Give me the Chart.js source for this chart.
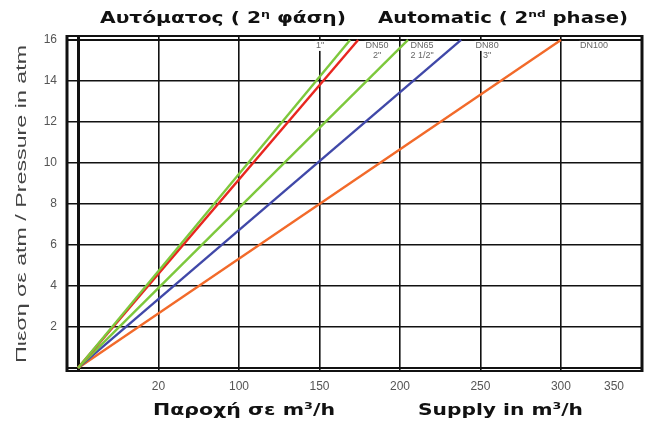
<!DOCTYPE html>
<html>
<head>
<meta charset="utf-8">
<script src="https://cdn.jsdelivr.net/npm/chart.js@4.4.1/dist/chart.umd.min.js"></script>
<style>
  html, body { margin: 0; padding: 0; background: #fff; }
  #wrap { width: 649px; height: 421px; }
</style>
</head>
<body>
<div id="wrap"><canvas id="c"></canvas></div>
<script>
// pipe sizes, pressure range and the flow reached at 16 atm
const seriesNames = ['1"', 'DN50 2"', 'DN65 2 1/2"', 'DN80 3"', 'DN100'];
const seriesLabelLines = [['1"'], ['DN50', '2"'], ['DN65', '2 1/2"'], ['DN80', '3"'], ['DN100']];
const seriesColors = ['#7dc83c', '#e8261f', '#7dc83c', '#4048a8', '#f26a2a'];
const pressureRange = [0, 16];
const flowAtMax = [169, 174, 205, 238, 300];

const xTickValues = [0, 50, 100, 150, 200, 250, 300, 333, 350];
const xTickLabels = ['', '20', '100', '150', '200', '250', '300', '350', ''];
const yTickValues = [0, 2, 4, 6, 8, 10, 12, 14, 16];

const titleTopGr = [['Αυτόματος ( 2'], ['η', 1], [' φάση)']];
const titleTopEn = [['Automatic ( 2'], ['nd', 1], [' phase)']];
const titleXGr = [['Παροχή σε m'], ['3', 1], ['/h']];
const titleXEn = [['Supply in m'], ['3', 1], ['/h']];
const titleY = 'Πιεση σε atm / Pressure in atm';

const FONT = '"Liberation Sans", Arial, sans-serif';
const BOLD = '"DejaVu Sans", "Liberation Sans", sans-serif';

function drawRich(ctx, segs, x, y, size, width)
{
    const font = s => 'bold ' + s + 'px ' + BOLD;
    let total = 0;
    segs.forEach(s => {
        ctx.font = font(s[1] ? size * 0.62 : size);
        total += ctx.measureText(s[0]).width;
    });
    ctx.save();
    ctx.translate(x, y);
    ctx.scale(width / total, 1);
    ctx.fillStyle = '#111';
    ctx.textBaseline = 'alphabetic';
    ctx.textAlign = 'left';
    let cx = 0;
    segs.forEach(s => {
        ctx.font = font(s[1] ? size * 0.62 : size);
        ctx.fillText(s[0], cx, s[1] ? -size * 0.42 : 0);
        cx += ctx.measureText(s[0]).width;
    });
    ctx.restore();
}

const decor = {
    id: 'decor',
    afterDatasetsDraw(chart)
    {
        const ctx = chart.ctx;
        const xs = chart.scales.x, ys = chart.scales.y;
        const a = chart.chartArea;

        // pipe size labels next to the line ends
        const dx = [-30, 19, 14, 26, 33];
        ctx.save();
        ctx.font = '9px ' + FONT;
        ctx.textAlign = 'center';
        ctx.textBaseline = 'middle';
        seriesLabelLines.forEach((lines, i) => {
            const px = xs.getPixelForValue(flowAtMax[i]) + dx[i];
            const py = ys.getPixelForValue(pressureRange[1]) + 6;
            lines.forEach((t, j) => {
                const w = ctx.measureText(t).width;
                ctx.fillStyle = '#fff';
                ctx.fillRect(px - w / 2 - 1, py + j * 10 - 5, w + 2, 10);
                ctx.fillStyle = '#666';
                ctx.fillText(t, px, py + j * 10);
            });
        });
        ctx.restore();

        // double frame
        ctx.save();
        ctx.strokeStyle = '#111';
        ctx.lineWidth = 3;
        ctx.beginPath();
        ctx.moveTo(a.left + 1, a.top); ctx.lineTo(a.left + 1, a.bottom);
        ctx.moveTo(a.right - 1, a.top); ctx.lineTo(a.right - 1, a.bottom);
        ctx.stroke();
        ctx.lineWidth = 2.2;
        ctx.beginPath();
        ctx.moveTo(a.left, a.top + 1); ctx.lineTo(a.right, a.top + 1);
        ctx.moveTo(a.left, a.bottom - 1); ctx.lineTo(a.right, a.bottom - 1);
        ctx.stroke();
        ctx.restore();

        // titles
        drawRich(ctx, titleTopGr, 100, 23, 15, 246);
        drawRich(ctx, titleTopEn, 378, 23, 15, 250);
        drawRich(ctx, titleXGr, 153, 415, 15, 182);
        drawRich(ctx, titleXEn, 418, 415, 15, 165);

        ctx.save();
        ctx.translate(22, 204);
        ctx.rotate(-Math.PI / 2);
        ctx.font = '15px ' + FONT;
        const w = ctx.measureText(titleY).width;
        ctx.scale(318 / w, 1);
        ctx.fillStyle = '#444';
        ctx.textAlign = 'center';
        ctx.textBaseline = 'middle';
        ctx.fillText(titleY, 0, 0);
        ctx.restore();
    }
};

new Chart(document.getElementById('c'), {
    type: 'line',
    data: {
        datasets: seriesNames.map((name, i) => ({
            label: name,
            data: [
                { x: 0, y: pressureRange[0] },
                { x: flowAtMax[i], y: pressureRange[1] }
            ],
            borderColor: seriesColors[i],
            backgroundColor: seriesColors[i],
            borderWidth: 2.4,
            pointRadius: 0,
            tension: 0
        }))
    },
    options: {
        responsive: true,
        maintainAspectRatio: false,
        animation: false,
        layout: { padding: { left: 0, top: 35, right: 6, bottom: 0 } },
        plugins: {
            legend: { display: false },
            tooltip: { enabled: false }
        },
        scales: {
            x: {
                type: 'linear',
                min: -7.5,
                max: 351,
                afterBuildTicks: s => { s.ticks = xTickValues.map(v => ({ value: v })); },
                afterFit: s => { s.height = 49; },
                ticks: {
                    autoSkip: false,
                    maxRotation: 0,
                    padding: 7,
                    color: '#555',
                    font: { family: FONT, size: 12 },
                    callback: v => xTickLabels[xTickValues.indexOf(v)]
                },
                grid: {
                    drawTicks: false,
                    color: c => (c.tick && c.tick.value === 333) ? 'rgba(0,0,0,0)' : '#111',
                    lineWidth: c => (c.tick && c.tick.value === 0) ? 3 : 1.6
                },
                border: { display: false }
            },
            y: {
                type: 'linear',
                min: -0.2,
                max: 16.24,
                afterBuildTicks: s => { s.ticks = yTickValues.map(v => ({ value: v })); },
                afterFit: s => { s.width = 66; },
                ticks: {
                    padding: 9,
                    color: '#555',
                    font: { family: FONT, size: 12 },
                    callback: v => v === 0 ? '' : String(v)
                },
                grid: {
                    drawTicks: false,
                    color: '#111',
                    lineWidth: c => (c.tick && (c.tick.value === 0 || c.tick.value === 16)) ? 2 : 1.6
                },
                border: { display: false }
            }
        }
    },
    plugins: [decor]
});
</script>
</body>
</html>
